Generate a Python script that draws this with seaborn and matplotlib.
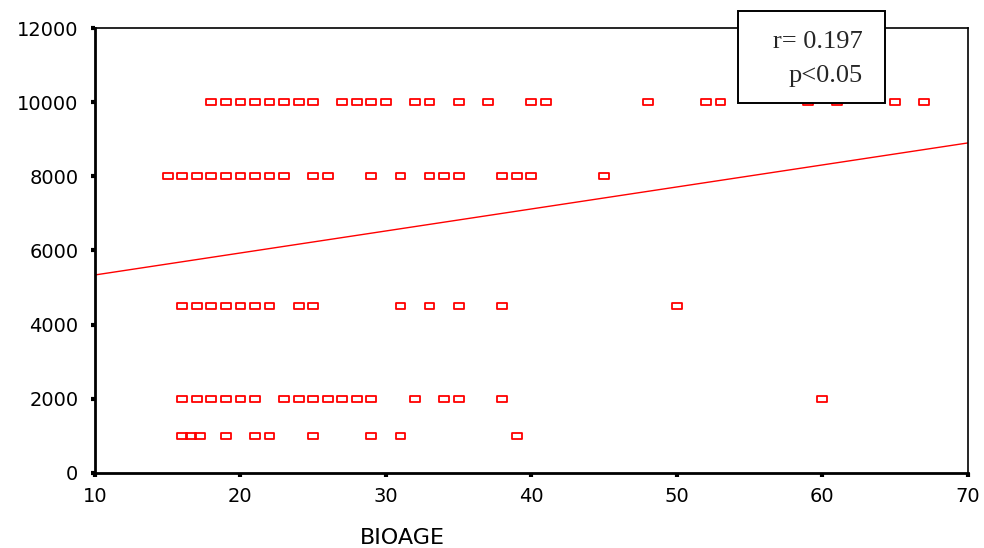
import numpy as np
import pandas as pd
import matplotlib
matplotlib.use("Agg")
import matplotlib.pyplot as plt
import seaborn as sns
from matplotlib.path import Path
from matplotlib.patches import Rectangle

# ---- data ----
age_10000 = [18, 19, 20, 21, 22, 23, 24, 25, 27, 28, 29, 30, 32, 33, 35, 37, 40, 41,
             48, 52, 53, 59, 61, 65, 67]
age_8000 = [15, 16, 17, 18, 19, 20, 21, 22, 23, 25, 26, 29, 31, 33, 34, 35, 38, 39, 40, 45]
age_4500 = [16, 17, 18, 19, 20, 21, 22, 24, 25, 31, 33, 35, 38, 50]
age_2000 = [16, 17, 18, 19, 20, 21, 23, 24, 25, 26, 27, 28, 29, 32, 34, 35, 38, 60]
age_1000 = [16, 16.6, 17.2, 19, 21, 22, 25, 29, 31, 39]
levels = [10000, 8000, 4500, 2000, 1000]

fit_x = [10, 70]
fit_y = [5340, 8900]

x_ticks = [10, 20, 30, 40, 50, 60, 70]
y_ticks = [0, 2000, 4000, 6000, 8000, 10000, 12000]
annot_r = "r= 0.197"
annot_p = "p<0.05"
x_label = "BIOAGE"

rows = []
for lvl, ages in zip(levels, [age_10000, age_8000, age_4500, age_2000, age_1000]):
    for a in ages:
        rows.append((a, lvl))
df = pd.DataFrame(rows, columns=["BIOAGE", "VALUE"])
fit_df = pd.DataFrame({"BIOAGE": fit_x, "VALUE": fit_y})

sns.set_theme(style="white")
plt.rcParams["font.family"] = ["DejaVu Sans"]

fig = plt.figure(figsize=(9.84, 5.48), dpi=100)
ax = fig.add_axes([0.0965, 0.1369, 0.887, 0.812])

rect_marker = Path([(-1, -0.62), (1, -0.62), (1, 0.62), (-1, 0.62), (-1, -0.62)],
                   [Path.MOVETO, Path.LINETO, Path.LINETO, Path.LINETO, Path.CLOSEPOLY])

sns.scatterplot(data=df, x="BIOAGE", y="VALUE", ax=ax, marker=rect_marker, s=50,
                facecolor="none", edgecolor="#ff0000", linewidth=1.3, zorder=3)
sns.lineplot(data=fit_df, x="BIOAGE", y="VALUE", ax=ax, color="#ff0000", linewidth=1.0,
             zorder=2)

ax.set_xlim(10, 70)
ax.set_ylim(0, 12000)
ax.set_xticks(x_ticks)
ax.set_yticks(y_ticks)
ax.set_xticklabels([str(t) for t in x_ticks])
ax.set_yticklabels([str(t) for t in y_ticks])
ax.set_xlabel("")
ax.set_ylabel("")

ax.tick_params(axis="both", which="major", direction="out", length=3, width=3,
               color="black", labelsize=14, labelcolor="black", bottom=True, left=True)
ax.tick_params(axis="y", pad=9)
ax.tick_params(axis="x", pad=7)

for side in ["left", "bottom"]:
    ax.spines[side].set_color("black")
    ax.spines[side].set_linewidth(2.0)
for side in ["top", "right"]:
    ax.spines[side].set_visible(True)
    ax.spines[side].set_color("black")
    ax.spines[side].set_linewidth(1.2)
ax.grid(False)

fig.text(0.409, 0.018, x_label, ha="center", va="center", fontsize=16, color="black")

# annotation box overlapping the top of the plot
box = Rectangle((0.750, 0.812), 0.1494, 0.168, transform=fig.transFigure,
                facecolor="white", edgecolor="black", linewidth=1.4, zorder=10)
fig.add_artist(box)
fig.text(0.877, 0.912, annot_r, ha="right", va="baseline", fontsize=19,
         family=["Liberation Serif", "DejaVu Serif"], zorder=11)
fig.text(0.877, 0.850, annot_p, ha="right", va="baseline", fontsize=19,
         family=["Liberation Serif", "DejaVu Serif"], zorder=11)

fig.savefig("out.png", dpi=100)
